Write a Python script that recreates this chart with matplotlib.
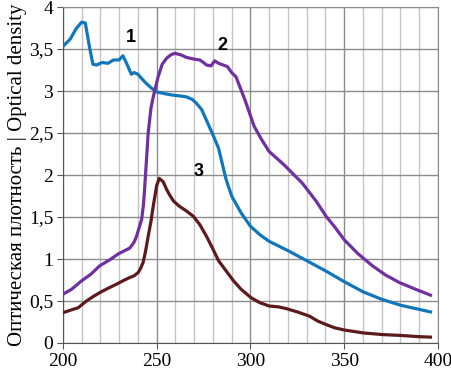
import matplotlib
matplotlib.use("Agg")
import matplotlib.pyplot as plt
from matplotlib.ticker import FuncFormatter, MultipleLocator

plt.rcParams["font.family"] = "serif"
plt.rcParams["font.serif"] = ["Liberation Serif", "DejaVu Serif"]

# curve 1 (blue)
wl1 = [200, 204, 207, 210, 212, 214, 216, 218, 221, 224, 227, 230, 232, 234, 236.5, 238, 240,
       242, 244.5, 247, 250, 254, 259, 263, 266, 269, 271, 274, 277, 280, 283, 287, 290,
       295, 300, 305, 310, 320, 330, 340, 350, 360, 370, 380, 390, 396]
od1 = [3.53, 3.62, 3.74, 3.82, 3.81, 3.55, 3.32, 3.31, 3.34, 3.33, 3.37, 3.37, 3.42, 3.33, 3.2,
       3.22, 3.2, 3.15, 3.09, 3.04, 2.99, 2.97, 2.95, 2.94, 2.93, 2.9, 2.86, 2.78, 2.63, 2.48,
       2.32, 1.95, 1.75, 1.55, 1.39, 1.29, 1.21, 1.1, 0.98, 0.86, 0.73, 0.61, 0.52, 0.45, 0.4, 0.37]

# curve 2 (purple)
wl2 = [200, 204.7, 210, 215, 219.7, 225, 229.5, 235.7, 238, 239.3, 240.5, 242, 243, 243.7,
       245.5, 247, 248.2, 250.8, 253, 255.3, 257.5, 259.7, 263, 266, 270, 273, 275, 276.6, 279,
       281, 283, 285.5, 287.8, 290, 292.3, 297, 302, 306, 310, 318, 327.8, 335, 340.3, 345,
       350, 357, 365, 372, 379.4, 388, 396]
od2 = [0.58, 0.64, 0.74, 0.82, 0.92, 0.99, 1.06, 1.13, 1.2, 1.27, 1.36, 1.47, 1.65, 1.87,
       2.5, 2.8, 2.93, 3.17, 3.32, 3.39, 3.43, 3.45, 3.43, 3.4, 3.38, 3.37, 3.34, 3.31, 3.3,
       3.36, 3.33, 3.31, 3.29, 3.22, 3.17, 2.9, 2.58, 2.42, 2.28, 2.12, 1.9, 1.69, 1.51, 1.38,
       1.23, 1.07, 0.92, 0.81, 0.72, 0.64, 0.57]

# curve 3 (brown)
wl3 = [200, 204, 208.2, 212.6, 216, 219.7, 224, 228.6, 232, 235.7, 238, 240.2, 241.5, 242.8,
       244, 245.5, 247, 248.2, 250, 251.4, 253.5, 255.3, 257, 259, 262, 266, 269.5, 273,
       276.6, 280, 283, 287, 291, 295, 300.3, 305, 310, 315, 319, 325, 331.4, 336, 340.3,
       345, 350, 360, 370.5, 380, 390, 396]
od3 = [0.36, 0.39, 0.42, 0.5, 0.55, 0.6, 0.65, 0.7, 0.74, 0.78, 0.8, 0.84, 0.89, 0.96, 1.08,
       1.27, 1.45, 1.63, 1.87, 1.96, 1.92, 1.83, 1.76, 1.69, 1.63, 1.57, 1.51, 1.41, 1.27,
       1.12, 0.98, 0.86, 0.74, 0.64, 0.54, 0.48, 0.44, 0.43, 0.41, 0.37, 0.32, 0.26, 0.22,
       0.18, 0.155, 0.12, 0.1, 0.09, 0.075, 0.07]

labels = ["1", "2", "3"]
label_xy = [(236.3, 3.64), (284.8, 3.54), (272.5, 2.04)]

BLUE = "#1176bb"
PURPLE = "#7030a0"
BROWN = "#5c1a1c"

fig = plt.figure(figsize=(4.52, 3.72), dpi=100)
ax = fig.add_axes([0.139, 0.078, 0.83, 0.903])

ax.plot(wl1, od1, color=BLUE, lw=2.3, zorder=3)
ax.plot(wl2, od2, color=PURPLE, lw=2.3, zorder=3)
ax.plot(wl3, od3, color=BROWN, lw=2.3, zorder=3)

for txt, (x, y) in zip(labels, label_xy):
    ax.text(x, y, txt, fontsize=13, fontweight="bold", family="Liberation Sans",
            ha="center", va="center")

ax.set_xlim(200, 400)
ax.set_ylim(0, 4)
ax.xaxis.set_major_locator(MultipleLocator(50))
ax.xaxis.set_minor_locator(MultipleLocator(10))
ax.yaxis.set_major_locator(MultipleLocator(0.5))
ax.xaxis.set_major_formatter(FuncFormatter(lambda v, p: f"{v:g}"))
ax.yaxis.set_major_formatter(FuncFormatter(lambda v, p: f"{v:g}".replace(".", ",")))

ax.grid(True, which="major", axis="x", color="#8c8c8c", lw=1.0)
ax.grid(True, which="minor", axis="x", color="#c4c4c4", lw=1.0)
ax.grid(True, which="major", axis="y", color="#8c8c8c", lw=1.0)
ax.set_axisbelow(True)

for side in ["top", "right"]:
    ax.spines[side].set_color("#8c8c8c")
for side in ["left", "bottom"]:
    ax.spines[side].set_color("#555555")

ax.tick_params(which="both", direction="out", length=4, color="#555555",
               labelsize=14, pad=3)
ax.tick_params(which="minor", length=0)
fig.canvas.draw()
for lab in ax.get_xticklabels() + ax.get_yticklabels():
    lab.set_fontfamily("Liberation Serif")

ax.set_ylabel("Оптическая плотность | Optical density", fontsize=15, labelpad=1)

fig.savefig("out.png", dpi=100)
